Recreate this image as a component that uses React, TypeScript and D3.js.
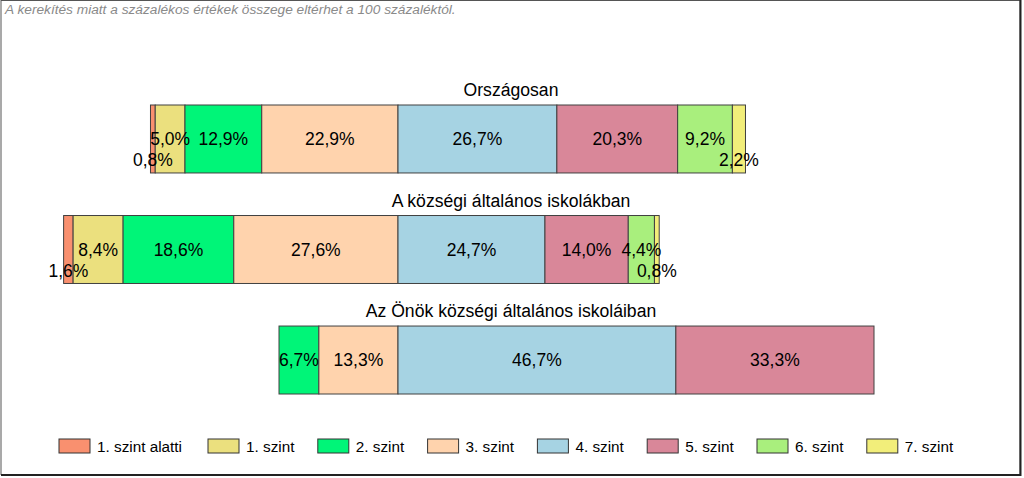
import React from "react";
import * as d3 from "d3";

const levels = ["1. szint alatti", "1. szint", "2. szint", "3. szint", "4. szint", "5. szint", "6. szint", "7. szint"];
const levelColors = ["#F9906F", "#EBE07E", "#00F578", "#FFD3AD", "#A6D3E3", "#D98799", "#A9EF7D", "#F2EE7A"];
const groups = ["Országosan", "A községi általános iskolákban", "Az Önök községi általános iskoláiban"];
const orszagosan = [0.8, 5.0, 12.9, 22.9, 26.7, 20.3, 9.2, 2.2];
const kozsegi = [1.6, 8.4, 18.6, 27.6, 24.7, 14.0, 4.4, 0.8];
const onok = [0, 0, 6.7, 13.3, 46.7, 33.3, 0, 0];
const seriesValues = [orszagosan, kozsegi, onok];
const note = "A kerekítés miatt a  százalékos értékek összege eltérhet a 100 százaléktól.";

const W = 1024;
const H = 478;
const FONT = "'Liberation Sans', Arial, sans-serif";

export default function App() {
  // diverging axis: 0 = boundary between 3. and 4. szint
  const x = d3.scaleLinear().domain([-60, 80]).range([398 - 60 * 5.95, 398 + 80 * 5.95]);
  const y = d3.scaleBand<string>().domain(groups).range([105, 394]).paddingInner(0.385).paddingOuter(0);
  const bh = y.bandwidth();
  const fmt = (v: number) => d3.format(".1f")(v).replace(".", ",") + "%";

  const rows = groups.map((g, gi) => {
    const vals = seriesValues[gi];
    const leftSum = d3.sum(vals.slice(0, 4));
    let acc = -leftSum;
    const segs = vals.map((v, i) => {
      const s = { i, v, x0: acc, x1: acc + v };
      acc += v;
      return s;
    });
    return { g, segs };
  });

  return (
    <svg width={W} height={H} style={{ position: "absolute", left: 0, top: 0, background: "#fff" }} fontFamily={FONT}>
      <rect x={0} y={0} width={W} height={H} fill="#fff" />
      <rect x={1} y={0.5} width={1019} height={474} fill="none" stroke="#555" strokeWidth={1} />
      <line x1={1020.5} y1={0} x2={1020.5} y2={476} stroke="#222" strokeWidth={2} />
      <line x1={1} y1={475} x2={1021} y2={475} stroke="#222" strokeWidth={2} />
      <text x={5} y={14} fontSize={13.7} fontStyle="italic" fill="#8a8a8a">{note}</text>
      {rows.map(({ g, segs }) => {
        const top = y(g)!;
        return (
          <g key={g}>
            <text x={511} y={top - 9} fontSize={17.6} textAnchor="middle" fill="#000">{g}</text>
            {segs.filter(s => s.v > 0).map(s => (
              <rect key={s.i} x={x(s.x0)} y={top} width={x(s.x1) - x(s.x0)} height={bh}
                fill={levelColors[s.i]} stroke="#404040" strokeWidth={1} />
            ))}
            {segs.filter(s => s.v > 0).map(s => (
              <text key={"t" + s.i} x={(x(s.x0) + x(s.x1)) / 2} y={top + (s.v < 3 ? 61 : 40)}
                fontSize={17.5} textAnchor="middle" fill="#000">{fmt(s.v)}</text>
            ))}
          </g>
        );
      })}
      {levels.map((l, i) => {
        const lx = 59 + (i > 0 ? 149 + (i - 1) * 109.8 : 0);
        return (
          <g key={l}>
            <rect x={lx} y={439} width={31} height={14} fill={levelColors[i]} stroke="#333" strokeWidth={1} />
            <text x={lx + 38} y={452} fontSize={15.3} fill="#000">{l}</text>
          </g>
        );
      })}
    </svg>
  );
}
